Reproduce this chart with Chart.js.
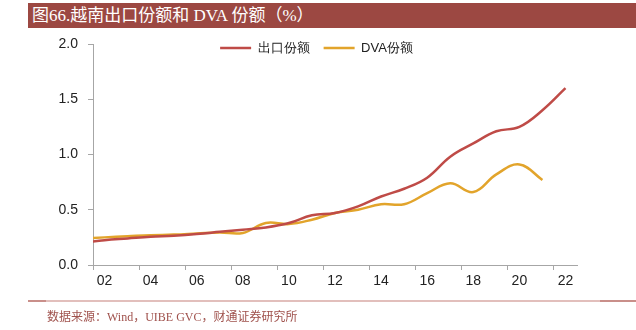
<!DOCTYPE html>
<html>
<head>
<meta charset="utf-8">
<script src="https://cdn.jsdelivr.net/npm/chart.js@4/dist/chart.umd.min.js"></script>
<style>
  body { margin: 0; background: #fff; }
  #wrap { position: relative; width: 636px; height: 330px; overflow: hidden; }
  #title {
    position: absolute; left: 28px; top: 3px; width: 608px; height: 25px;
    background: #9c4842; color: #fff;
    font: 17px "Liberation Serif", "Noto Sans CJK SC", serif;
    line-height: 25px; padding-left: 4px; box-sizing: border-box; white-space: nowrap;
  }
  #rule { position: absolute; left: 28px; top: 300px; width: 608px; height: 2px; background: #e2bfbc; }
  .rule-end { position: absolute; top: 300px; height: 2px; background: #c98f8a; }
  #source {
    position: absolute; left: 47px; top: 307px;
    font: 12px "Liberation Serif", "Noto Sans CJK SC", serif; color: #a0524d; white-space: nowrap;
  }
  #c { position: absolute; left: 0; top: 0; }
</style>
</head>
<body>
<div id="wrap">
  <canvas id="c" width="636" height="330"></canvas>
  <div id="title">图66.越南出口份额和 DVA 份额（%）</div>
  <div id="rule"></div>
  <div class="rule-end" style="left:28px;width:18px"></div>
  <div class="rule-end" style="left:600px;width:36px"></div>
  <div id="source">数据来源：Wind，UIBE GVC，财通证券研究所</div>
</div>
<script>
// 연도 (2001은 왼쪽 끝에서 잘림)
var years = [2001, 2002, 2003, 2004, 2005, 2006, 2007, 2008, 2009, 2010, 2011,
             2012, 2013, 2014, 2015, 2016, 2017, 2018, 2019, 2020, 2021, 2022];
var exportShare = [0.20, 0.225, 0.24, 0.255, 0.265, 0.28, 0.30, 0.32, 0.34, 0.38, 0.45,
                   0.47, 0.53, 0.62, 0.69, 0.79, 0.98, 1.10, 1.21, 1.25, 1.40, 1.60];
var dvaShare = [0.24, 0.25, 0.26, 0.27, 0.275, 0.285, 0.295, 0.29, 0.38, 0.37, 0.41,
                0.47, 0.50, 0.55, 0.55, 0.65, 0.74, 0.66, 0.82, 0.91, 0.77];
// x축 라벨 (카테고리)
var xLabels = ['02', '03', '04', '05', '06', '07', '08', '09', '10', '11', '12',
               '13', '14', '15', '16', '17', '18', '19', '20', '21', '22'];
var yTicks = [0, 0.5, 1.0, 1.5, 2.0];
var seriesNames = ['出口份额', 'DVA份额'];

function toPoints(vals) {
    return vals.map(function(v, i) { return { x: years[i], y: v }; });
}

// 범례를 플롯 안쪽(위)으로 옮김
var legendShift = {
    id: 'legendShift',
    afterLayout: function(chart) {
        var lg = chart.legend;
        var h = lg.bottom - lg.top;
        lg.top = 27.5;
        lg.bottom = lg.top + h;
        lg.left += 28;
        lg.right += 28;
    }
};

var axisGray = '#a6a6a6';

new Chart(document.getElementById('c').getContext('2d'), {
    type: 'line',
    data: {
        datasets: [{
            label: seriesNames[0],
            data: toPoints(exportShare),
            borderColor: '#bf4b47',
            backgroundColor: '#bf4b47',
            borderWidth: 2.5,
            pointRadius: 0,
            tension: 0.4,
            xAxisID: 'xd'
        }, {
            label: seriesNames[1],
            data: toPoints(dvaShare),
            borderColor: '#e2a42b',
            backgroundColor: '#e2a42b',
            borderWidth: 2.5,
            pointRadius: 0,
            tension: 0.4,
            xAxisID: 'xd'
        }]
    },
    options: {
        responsive: false,
        animation: false,
        layout: { padding: { left: 0, right: 59, top: 7, bottom: 34 } },
        scales: {
            xd: {
                type: 'linear',
                display: false,
                min: 2001.5,
                max: 2022.5
            },
            x: {
                type: 'category',
                labels: xLabels,
                offset: true,
                afterFit: function(s) { s.height = 31; },
                border: { color: axisGray, width: 1 },
                grid: {
                    offset: true,
                    drawOnChartArea: false,
                    tickLength: 5,
                    color: function(ctx) { return ctx.index % 2 === 0 ? axisGray : 'rgba(0,0,0,0)'; }
                },
                ticks: {
                    autoSkip: false,
                    maxRotation: 0,
                    padding: 3,
                    color: '#222',
                    font: { family: 'Liberation Sans', size: 14 },
                    callback: function(v, i) { return i % 2 === 0 ? xLabels[i] : ''; }
                }
            },
            y: {
                min: 0,
                max: 2,
                afterFit: function(s) { s.width = 93; },
                afterBuildTicks: function(s) { s.ticks = yTicks.map(function(v) { return { value: v }; }); },
                border: { color: axisGray, width: 1 },
                grid: { drawOnChartArea: false, tickLength: 5, color: axisGray },
                ticks: {
                    padding: 10,
                    color: '#222',
                    font: { family: 'Liberation Sans', size: 14 },
                    callback: function(v) { return v.toFixed(1); }
                }
            }
        },
        plugins: {
            legend: {
                position: 'top',
                align: 'center',
                labels: {
                    usePointStyle: true,
                    pointStyle: 'line',
                    pointStyleWidth: 31,
                    boxHeight: 13,
                    padding: 14,
                    color: '#222',
                    font: { family: 'Liberation Sans', size: 13 }
                }
            },
            tooltip: { enabled: false }
        }
    },
    plugins: [legendShift]
});
</script>
</body>
</html>
